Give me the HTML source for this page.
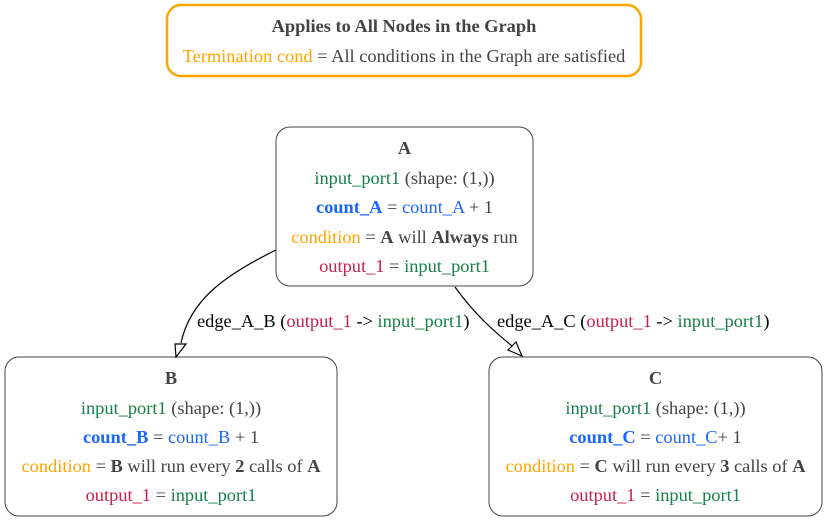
<!DOCTYPE html>
<html><head><meta charset="utf-8"><style>
html,body{margin:0;padding:0;background:#fff;}
svg{display:block;}
svg text{font-family:"Liberation Serif","Times New Roman","DejaVu Serif",serif;font-size:18.4px;}
.g{fill:#17804a}.b{fill:#1a66ff}.o{fill:#ffa500}.r{fill:#c8204a}.k{fill:#444}
</style></head><body>
<svg width="827" height="522" viewBox="0 0 827 522" font-family="Liberation Serif, serif" font-size="18.4">
<g>
<rect x="167" y="5" width="474" height="71" rx="14" fill="#fff" stroke="#ffa500" stroke-width="2.5"/>
<text x="404" y="32" text-anchor="middle" class="k" font-weight="bold">Applies to All Nodes in the Graph</text>
<text x="404" y="62" text-anchor="middle" class="k"><tspan class="o">Termination cond</tspan> = All conditions in the Graph are satisfied</text>
</g>
<g>
<rect x="276" y="127" width="257" height="159" rx="14" fill="#fff" stroke="#444" stroke-width="1"/>
<text x="404.5" y="154" text-anchor="middle" class="k" font-weight="bold">A</text>
<text x="404.5" y="184" text-anchor="middle" class="k"><tspan class="g">input_port1</tspan> (shape: (1,))</text>
<text x="404.5" y="213" text-anchor="middle" class="k"><tspan class="b" font-weight="bold">count_A</tspan> = <tspan class="b">count_A</tspan> + 1</text>
<text x="404.5" y="243" text-anchor="middle" class="k"><tspan class="o">condition</tspan> = <tspan font-weight="bold">A</tspan> will <tspan font-weight="bold">Always</tspan> run</text>
<text x="404.5" y="272" text-anchor="middle" class="k"><tspan class="r">output_1</tspan> = <tspan class="g">input_port1</tspan></text>
</g>
<g>
<rect x="5" y="357" width="332" height="159" rx="14" fill="#fff" stroke="#444" stroke-width="1"/>
<text x="171" y="384" text-anchor="middle" class="k" font-weight="bold">B</text>
<text x="171" y="414" text-anchor="middle" class="k"><tspan class="g">input_port1</tspan> (shape: (1,))</text>
<text x="171" y="443" text-anchor="middle" class="k"><tspan class="b" font-weight="bold">count_B</tspan> = <tspan class="b">count_B</tspan> + 1</text>
<text x="171" y="472" text-anchor="middle" class="k"><tspan class="o">condition</tspan> = <tspan font-weight="bold">B</tspan> will run every <tspan font-weight="bold">2</tspan> calls of <tspan font-weight="bold">A</tspan></text>
<text x="171" y="501" text-anchor="middle" class="k"><tspan class="r">output_1</tspan> = <tspan class="g">input_port1</tspan></text>
</g>
<g>
<rect x="489" y="357" width="333" height="159" rx="14" fill="#fff" stroke="#444" stroke-width="1"/>
<text x="655.5" y="384" text-anchor="middle" class="k" font-weight="bold">C</text>
<text x="655.5" y="414" text-anchor="middle" class="k"><tspan class="g">input_port1</tspan> (shape: (1,))</text>
<text x="655.5" y="443" text-anchor="middle" class="k"><tspan class="b" font-weight="bold">count_C</tspan> = <tspan class="b">count_C</tspan>+ 1</text>
<text x="655.5" y="472" text-anchor="middle" class="k"><tspan class="o">condition</tspan> = <tspan font-weight="bold">C</tspan> will run every <tspan font-weight="bold">3</tspan> calls of <tspan font-weight="bold">A</tspan></text>
<text x="655.5" y="501" text-anchor="middle" class="k"><tspan class="r">output_1</tspan> = <tspan class="g">input_port1</tspan></text>
</g>
<g>
<path d="M276,250 C225,275 190,300 181,343" fill="none" stroke="#000" stroke-width="1.2"/>
<polygon points="175,344 186,344 176,357" fill="#fff" stroke="#000" stroke-width="1.2"/>
<text x="197" y="327" fill="#000">edge_A_B (<tspan class="r">output_1</tspan> -&gt; <tspan class="g">input_port1</tspan>)</text>
</g>
<g>
<path d="M455,287 C475,315 495,332 512,346" fill="none" stroke="#000" stroke-width="1.2"/>
<polygon points="508,350 516,342 522,356" fill="#fff" stroke="#000" stroke-width="1.2"/>
<text x="497" y="327" fill="#000">edge_A_C (<tspan class="r">output_1</tspan> -&gt; <tspan class="g">input_port1</tspan>)</text>
</g>
</svg>
</body></html>
